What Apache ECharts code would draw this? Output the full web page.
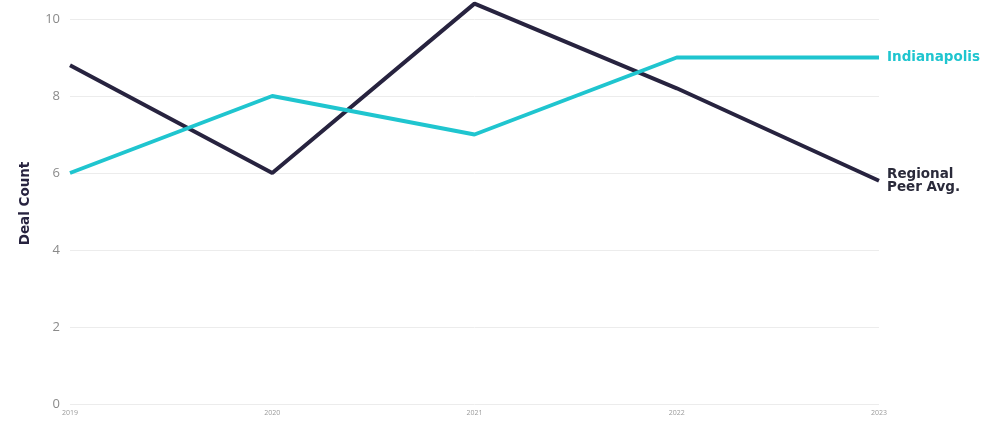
<!DOCTYPE html>
<html><head><meta charset="utf-8">
<script src="https://cdn.jsdelivr.net/npm/echarts@6/dist/echarts.min.js"></script>
<style>html,body{margin:0;padding:0;background:#fff}#c{width:995px;height:423px}</style>
</head><body><div id="c"></div>
<script>
const years = ['2019','2020','2021','2022','2023'];
const indianapolis = [6, 8, 7, 9, 9];
const regionalPeer = [8.8, 6, 10.4, 8.2, 5.8];
const yTicks = {min: 0, max: 10, interval: 2};
const seriesNames = ['Indianapolis', 'Regional\nPeer Avg.'];

const navy = '#27233f', cyan = '#1fc5cf';
const chart = echarts.init(document.getElementById('c'));
chart.setOption({
  animation: false,
  grid: {left: 70, right: 116, top: 19, bottom: 19},
  xAxis: {
    type: 'category', data: years, boundaryGap: false,
    axisLine: {show: false}, axisTick: {show: false},
    axisLabel: {color: '#9a9a9a', fontSize: 7, margin: 5, fontFamily: 'Open Sans'}
  },
  yAxis: {
    type: 'value', min: yTicks.min, max: yTicks.max, interval: yTicks.interval,
    name: 'Deal Count', nameLocation: 'middle', nameGap: 38,
    nameTextStyle: {color: navy, fontWeight: 'bold', fontSize: 13.5, fontFamily: 'DejaVu Sans', padding: [0, 0, 0, 16]},
    axisLabel: {color: '#8a8a8a', fontSize: 13, margin: 10, fontFamily: 'Open Sans'},
    splitLine: {lineStyle: {color: '#ececec', width: 1}}
  },
  series: [
    {name: seriesNames[1], type: 'line', data: regionalPeer, symbol: 'none', clip: false,
     lineStyle: {color: navy, width: 4},
     endLabel: {show: true, formatter: seriesNames[1], color: '#2a2a3a', fontWeight: 'bold', fontSize: 13.5, lineHeight: 13, distance: 8, fontFamily: 'DejaVu Sans'}},
    {name: seriesNames[0], type: 'line', data: indianapolis, symbol: 'none', clip: false,
     lineStyle: {color: cyan, width: 4},
     endLabel: {show: true, formatter: seriesNames[0], color: cyan, fontWeight: 'bold', fontSize: 13.5, distance: 8, fontFamily: 'DejaVu Sans'}}
  ]
});
</script></body></html>
